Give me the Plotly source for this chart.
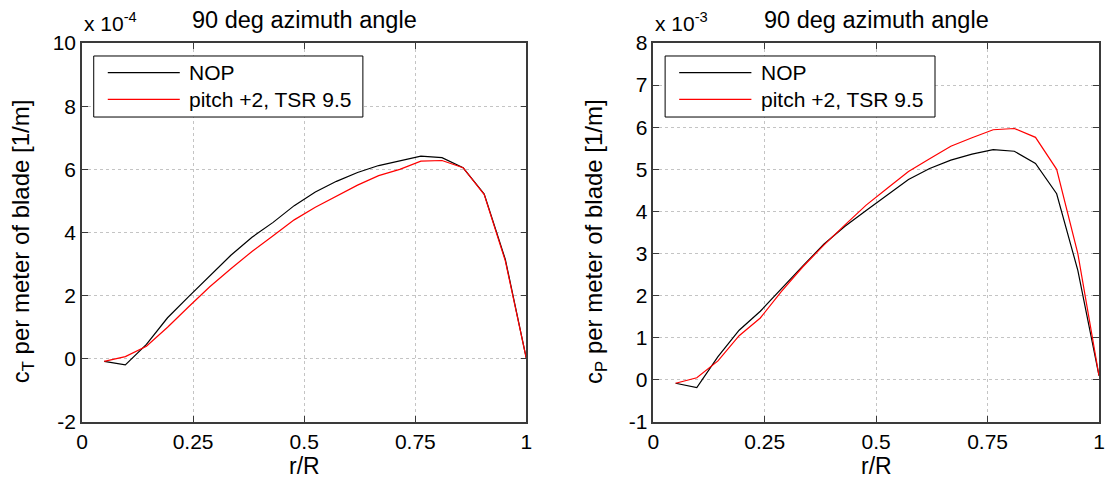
import plotly.graph_objects as go

# Radial stations along the blade (r/R)
r_over_R = [0.05, 0.0975, 0.145, 0.1925, 0.24, 0.2875, 0.335, 0.3825, 0.43, 0.4775,
            0.525, 0.5725, 0.62, 0.6675, 0.715, 0.7625, 0.81, 0.8575, 0.905, 0.9525, 1.0]

# Thrust coefficient per meter of blade (x 1e-4)
ct_nop = [-0.08, -0.19, 0.46, 1.3, 1.97, 2.62, 3.28, 3.85, 4.32, 4.85,
          5.28, 5.62, 5.9, 6.12, 6.28, 6.42, 6.37, 6.05, 5.22, 3.15, 0.0]
ct_pitch = [-0.08, 0.07, 0.40, 1.0, 1.65, 2.28, 2.85, 3.4, 3.9, 4.4,
            4.8, 5.15, 5.5, 5.8, 6.0, 6.26, 6.28, 6.05, 5.2, 3.1, 0.0]

# Power coefficient per meter of blade (x 1e-3)
cp_nop = [-0.08, -0.18, 0.55, 1.18, 1.63, 2.17, 2.7, 3.22, 3.65, 4.02,
          4.4, 4.76, 5.02, 5.22, 5.36, 5.47, 5.43, 5.14, 4.42, 2.6, 0.1]
cp_pitch = [-0.08, 0.05, 0.45, 1.05, 1.47, 2.1, 2.68, 3.2, 3.68, 4.15,
            4.55, 4.95, 5.25, 5.55, 5.75, 5.94, 5.97, 5.76, 5.0, 3.0, 0.1]

series_names = ["NOP", "pitch +2, TSR 9.5"]
series_colors = ["#000000", "#ff0000"]

x_ticks = [0, 0.25, 0.5, 0.75, 1]
x_ticklabels = ["0", "0.25", "0.5", "0.75", "1"]
ct_ticks = [-2, 0, 2, 4, 6, 8, 10]
ct_ticklabels = ["-2", "0", "2", "4", "6", "8", "10"]
cp_ticks = [-1, 0, 1, 2, 3, 4, 5, 6, 7, 8]
cp_ticklabels = ["-1", "0", "1", "2", "3", "4", "5", "6", "7", "8"]

FONT = "Liberation Sans, Arial, Helvetica, sans-serif"
AX_COLOR = "#3a3a3a"

fig = go.Figure()

for ys, name, color in zip([ct_nop, ct_pitch], series_names, series_colors):
    fig.add_trace(go.Scatter(x=r_over_R, y=ys, mode="lines", name=name,
                             line=dict(color=color, width=1.2),
                             xaxis="x", yaxis="y", showlegend=False))
for ys, name, color in zip([cp_nop, cp_pitch], series_names, series_colors):
    fig.add_trace(go.Scatter(x=r_over_R, y=ys, mode="lines", name=name,
                             line=dict(color=color, width=1.2),
                             xaxis="x2", yaxis="y2", showlegend=False))

axis_common = dict(
    showline=True, linecolor=AX_COLOR, linewidth=1.5, mirror="ticks",
    ticks="inside", ticklen=6, tickwidth=1, tickcolor=AX_COLOR,
    showgrid=True, gridcolor="#c4c4c4", griddash="dot", gridwidth=1,
    zeroline=False, tickfont=dict(family=FONT, size=21, color="#000"),
)

fig.update_layout(
    width=1105, height=482,
    margin=dict(l=82, r=0, t=43, b=60),
    paper_bgcolor="white", plot_bgcolor="white",
    font=dict(family=FONT, color="#000"),
    xaxis=dict(domain=[0, 0.4370], range=[0, 1], tickvals=x_ticks,
               ticktext=x_ticklabels, anchor="y", **axis_common),
    yaxis=dict(domain=[0, 1], range=[-2, 10], tickvals=ct_ticks,
               ticktext=ct_ticklabels, anchor="x", **axis_common),
    xaxis2=dict(domain=[0.5618, 1.0], range=[0, 1], tickvals=x_ticks,
                ticktext=x_ticklabels, anchor="y2", **axis_common),
    yaxis2=dict(domain=[0, 1], range=[-1, 8], tickvals=cp_ticks,
                ticktext=cp_ticklabels, anchor="x2", **axis_common),
)

# paper-y helper: plot area spans 43..422 px from the top
def py(px):
    return (422 - px) / 379.0

annotations = []
shapes = []
for xa, label, expo, ylab_x in [("x", "T", "-4", 22), ("x2", "P", "-3", 598)]:
    dom = xa + " domain"
    ya = "y domain" if xa == "x" else "y2 domain"
    # title
    annotations.append(dict(text="90 deg azimuth angle", xref=dom, x=0.5, yref="paper",
                            y=py(20), xanchor="center", yanchor="middle", showarrow=False,
                            font=dict(family=FONT, size=23.5)))
    # exponent label
    annotations.append(dict(text="x 10<sup>" + expo + "</sup>", xref=dom, x=0.0, yref="paper",
                            y=py(37), xanchor="left", yanchor="bottom", showarrow=False,
                            font=dict(family=FONT, size=21)))
    # x axis title
    annotations.append(dict(text="r/R", xref=dom, x=0.5, yref="paper", y=py(466),
                            xanchor="center", yanchor="middle", showarrow=False,
                            font=dict(family=FONT, size=23)))
    # y axis title
    annotations.append(dict(text="c<sub>" + label + "</sub> per meter of blade [1/m]",
                            xref="paper", x=(ylab_x - 82) / 1023.0, yref="paper", y=py(241),
                            xanchor="center", yanchor="middle", textangle=-90, showarrow=False,
                            font=dict(family=FONT, size=24)))
    # legend box
    shapes.append(dict(type="rect", xref=dom, yref=ya, x0=0.0264, x1=0.632,
                       y0=0.8047, y1=0.9657, line=dict(color="#000", width=1),
                       fillcolor="white", layer="above"))
    for yy, name, color in zip([0.9216, 0.8515], series_names, series_colors):
        shapes.append(dict(type="line", xref=dom, yref=ya, x0=0.058, x1=0.220,
                           y0=yy, y1=yy, line=dict(color=color, width=1.2), layer="above"))
        annotations.append(dict(text=name, xref=dom, x=0.237, yref=ya, y=yy,
                                xanchor="left", yanchor="middle", showarrow=False,
                                font=dict(family=FONT, size=21)))

fig.update_layout(annotations=annotations, shapes=shapes)

fig.write_html("out.html")
